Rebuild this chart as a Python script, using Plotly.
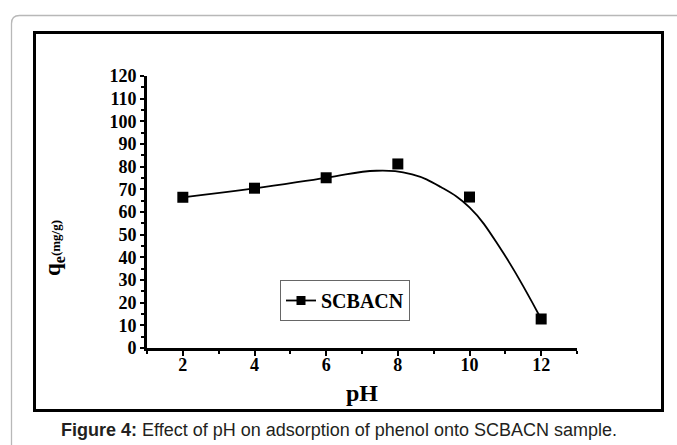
import plotly.graph_objects as go

# ---- data ----
ph = [2, 4, 6, 8, 10, 12]
qe = [66.5, 70.5, 75.1, 81.2, 66.6, 12.8]

# smooth fitted curve
fit_x = [2, 4, 6, 7.4, 8.4, 9.2, 10.0, 10.9, 12]
fit_y = [66.5, 70.4, 75.1, 78.2, 76.6, 71.0, 62.0, 43.0, 12.8]

y_ticks = [0, 10, 20, 30, 40, 50, 60, 70, 80, 90, 100, 110, 120]
x_ticks = [2, 4, 6, 8, 10, 12]
series_name = "SCBACN"
caption = "<b>Figure 4:</b> Effect of pH on adsorption of phenol onto SCBACN sample."

# ---- layout geometry (pixels) ----
W, H = 677, 445
L, R, T, B = 147, 577, 76, 348
pw, ph_ = R - L, B - T

def px(x):
    return (x - L) / pw

def py(y):
    return (B - y) / ph_

SERIF = "Liberation Serif, Times New Roman, serif"

fig = go.Figure()
fig.add_trace(go.Scatter(x=fit_x, y=fit_y, mode="lines", line=dict(color="black", width=1.8, shape="spline", smoothing=1.2),
                         showlegend=False, hoverinfo="skip"))
fig.add_trace(go.Scatter(x=ph, y=qe, mode="markers", marker=dict(symbol="square", size=11, color="black"),
                         showlegend=False))
fig.add_trace(go.Scatter(x=[None], y=[None], mode="lines+markers", name=series_name,
                         line=dict(color="black", width=1.8),
                         marker=dict(symbol="square", size=9, color="black")))

axis_font = dict(family=SERIF, size=18, color="black", weight="bold")
fig.update_xaxes(range=[1, 13], tickvals=x_ticks, ticks="outside", ticklen=5, tickwidth=2, tickcolor="black",
                 showline=True, linewidth=3, linecolor="black", showgrid=False, zeroline=False,
                 tickfont=axis_font, ticklabelstandoff=-7,
                 minor=dict(dtick=1, tick0=1, ticks="outside", ticklen=3, tickwidth=2, tickcolor="black"))
fig.update_yaxes(range=[0, 120], tickvals=y_ticks, ticks="outside", ticklen=4, tickwidth=2, tickcolor="black",
                 showline=True, linewidth=3, linecolor="black", showgrid=False, zeroline=False,
                 tickfont=axis_font, ticklabelstandoff=0,
                 minor=dict(dtick=5, tick0=0, ticks="outside", ticklen=3, tickwidth=2, tickcolor="black"))

shapes = []
# outer grey rounded frame
xl, yt = px(11.5), py(15.5)
xr, yb = px(720), py(480)
rx, ry = 8 / pw, 8 / ph_
shapes.append(dict(type="path", xref="paper", yref="paper",
                   path=f"M {xl},{yb} L {xl},{yt - ry} Q {xl},{yt} {xl + rx},{yt} L {xr},{yt}",
                   line=dict(color="#b8b8b8", width=1.3)))
# black chart frame
shapes.append(dict(type="rect", xref="paper", yref="paper",
                   x0=px(34.5), x1=px(662.5), y0=py(410.5), y1=py(32.5),
                   line=dict(color="black", width=3)))

annotations = [
    dict(text="pH", xref="paper", yref="paper", x=px(362), y=py(393), showarrow=False,
         font=dict(family=SERIF, size=24, color="black", weight="bold"), xanchor="center", yanchor="middle"),
    dict(text="q<sub>e</sub><span style='font-size:13px'>(mg/g)</span>", xref="paper", yref="paper",
         x=px(54), y=py(248), showarrow=False, textangle=-90,
         font=dict(family=SERIF, size=23, color="black", weight="bold"), xanchor="center", yanchor="middle"),
    dict(text=caption, xref="paper", yref="paper", x=px(339), y=py(430), showarrow=False,
         font=dict(family="Liberation Sans, Arial, sans-serif", size=18, color="#231f20"),
         xanchor="center", yanchor="middle"),
]

fig.update_layout(
    width=W, height=H, autosize=False,
    margin=dict(l=L, r=W - R, t=T, b=H - B, pad=0),
    paper_bgcolor="white", plot_bgcolor="white",
    shapes=shapes, annotations=annotations,
    legend=dict(x=px(280), y=py(280), xanchor="left", yanchor="top",
                bgcolor="white", bordercolor="#666666", borderwidth=1,
                font=dict(family=SERIF, size=20, color="black", weight="bold"),
                itemwidth=30, tracegroupgap=0),
)

fig.write_html("out.html", config={"displayModeBar": False},
               post_script="document.body.style.margin='0';document.body.style.overflow='hidden';")
